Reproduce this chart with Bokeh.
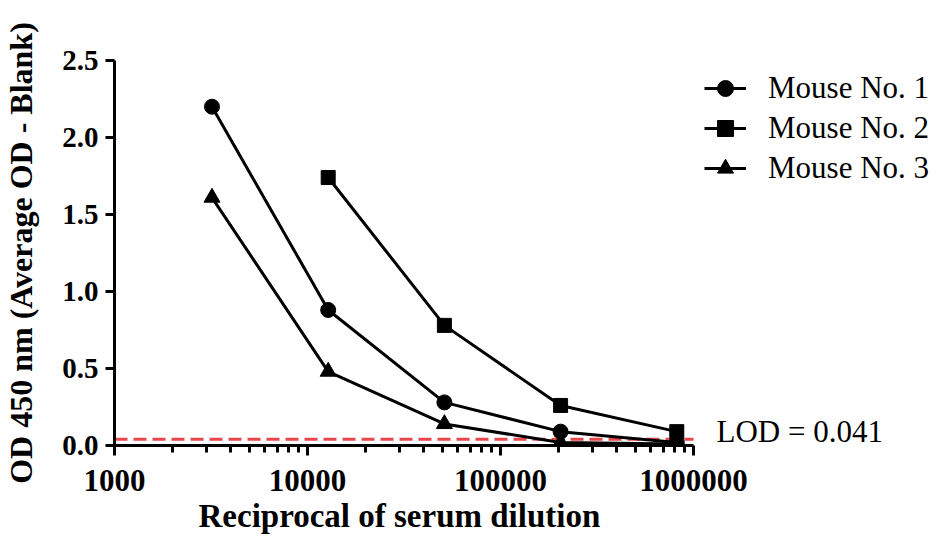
from bokeh.plotting import figure
from bokeh.models import (Range1d, FixedTicker, LogAxis, LinearAxis, Legend, LegendItem,
                          Label, LogScale, Title)
from bokeh.embed import file_html
from bokeh.resources import INLINE

# ---- data ----
dilution = [3200, 12800, 51200, 204800, 819200]
mouse1 = [2.20, 0.88, 0.28, 0.09, 0.02]
dilution2 = [12800, 51200, 204800, 819200]
mouse2 = [1.74, 0.78, 0.26, 0.09]
mouse3 = [1.61, 0.48, 0.14, 0.02, 0.01]
lod = 0.041
x_ticks = [1000, 10000, 100000, 1000000]
x_tick_labels = ["1000", "10000", "100000", "1000000"]
y_ticks = [0.0, 0.5, 1.0, 1.5, 2.0, 2.5]
y_tick_labels = ["0.0", "0.5", "1.0", "1.5", "2.0", "2.5"]
series_names = ["Mouse No. 1", "Mouse No. 2", "Mouse No. 3"]
lod_text = "LOD = 0.041"
x_title = "Reciprocal of serum dilution"
y_title = "OD 450 nm (Average OD - Blank)"

SERIF = "Liberation Serif"

# layout: axis spans 1000..1e6 over 579 px; frame extends right to hold legend
AXIS_PX = 579
FRAME_W = 820
x_end = 10 ** (3 + 3 * FRAME_W / AXIS_PX)

p = figure(x_axis_type=None, y_axis_type=None,
           x_range=Range1d(1000, x_end), y_range=Range1d(0, 2.5),
           output_backend="svg", toolbar_location=None,
           min_border_left=113, min_border_right=4, min_border_top=60, min_border_bottom=84)
p.frame_width = FRAME_W
p.frame_height = 385
p.x_scale = LogScale()
p.outline_line_color = None
p.grid.visible = False

minor = [m * 10 ** e for e in (3, 4, 5) for m in range(2, 10)]
xaxis = LogAxis(ticker=FixedTicker(ticks=x_ticks, minor_ticks=minor), bounds=(1000, 1000000))
xaxis.major_label_overrides = {t: l for t, l in zip(x_ticks, x_tick_labels)}
yaxis = LinearAxis(ticker=FixedTicker(ticks=y_ticks), bounds=(0, 2.5))
yaxis.major_label_overrides = {t: l for t, l in zip(y_ticks, y_tick_labels)}
yaxis.axis_label = y_title

for ax in (xaxis, yaxis):
    ax.axis_line_width = 3
    ax.axis_line_color = "black"
    ax.major_tick_line_width = 3
    ax.minor_tick_line_width = 3
    ax.major_tick_in = 0
    ax.minor_tick_in = 0
    ax.major_label_text_font = SERIF
    ax.major_label_text_font_style = "bold"
    ax.major_label_text_color = "black"
    ax.axis_label_text_font = SERIF
    ax.axis_label_text_font_style = "bold"
    ax.axis_label_text_color = "black"
xaxis.major_label_text_font_size = "31px"
yaxis.major_label_text_font_size = "29px"
yaxis.axis_label_text_font_size = "32px"
xaxis.major_tick_out = 10
xaxis.minor_tick_out = 7
xaxis.major_label_standoff = 14
yaxis.major_tick_out = 9
yaxis.minor_tick_out = 0
yaxis.major_label_standoff = 7
yaxis.axis_label_standoff = 20

p.add_layout(xaxis, "below")
p.add_layout(yaxis, "left")

# x axis title, centred under the axis span (not the whole frame)
xt = Title(text=x_title, align="left", offset=84, standoff=4,
           text_font=SERIF, text_font_style="bold", text_font_size="33px",
           text_color="black")
p.add_layout(xt, "below")

# LOD dashed line
p.line([1000, 1000000], [lod, lod], line_color="#E8474C", line_width=3, line_dash="13 6")

r1l = p.line(dilution, mouse1, line_color="black", line_width=3)
r1s = p.scatter(dilution, mouse1, marker="circle", size=15, color="black")
r2l = p.line(dilution2, mouse2, line_color="black", line_width=3)
r2s = p.scatter(dilution2, mouse2, marker="square", size=14, color="black")
r3l = p.line(dilution, mouse3, line_color="black", line_width=3)
r3s = p.scatter(dilution, mouse3, marker="triangle", size=16, color="black")

legend = Legend(items=[LegendItem(label=series_names[0], renderers=[r1l, r1s]),
                       LegendItem(label=series_names[1], renderers=[r2l, r2s]),
                       LegendItem(label=series_names[2], renderers=[r3l, r3s])],
                location=(590, 257))
legend.padding = 0
legend.margin = 0
legend.spacing = 0
legend.border_line_alpha = 0
legend.background_fill_alpha = 0
legend.glyph_width = 42
legend.glyph_height = 40
legend.label_height = 40
legend.label_standoff = 22
legend.label_text_font = SERIF
legend.label_text_font_size = "31px"
legend.label_text_color = "black"
p.add_layout(legend, "center")

lod_label = Label(x=602, y=14, x_units="screen", y_units="screen", text=lod_text,
                  text_font=SERIF, text_font_size="31px", text_baseline="middle",
                  text_color="black")
p.add_layout(lod_label)

open("out.html", "w").write(file_html(p, INLINE))
